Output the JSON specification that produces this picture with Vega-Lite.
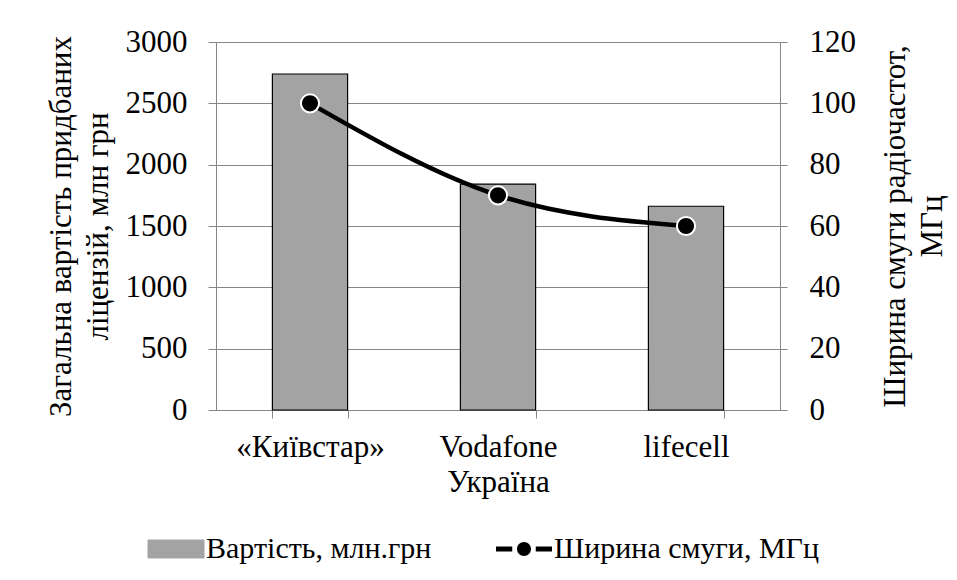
{
  "$schema": "https://vega.github.io/schema/vega-lite/v6.json",
  "width": 564,
  "height": 368,
  "autosize": {"type": "none"},
  "padding": {"left": 216, "top": 42, "right": 177, "bottom": 170},
  "background": "white",
  "config": {
    "font": "Liberation Serif",
    "view": {"stroke": null},
    "axis": {
      "labelFont": "Liberation Serif",
      "labelFontSize": 31,
      "labelColor": "black",
      "titleFont": "Liberation Serif",
      "titleFontSize": 31,
      "titleFontWeight": "normal",
      "titleColor": "black",
      "domainColor": "#868686",
      "tickColor": "#868686",
      "gridColor": "#868686"
    }
  },
  "data": {
    "values": [
      {"operator": "«Київстар»", "cost": 2739, "bandwidth": 100},
      {"operator": "Vodafone Україна", "cost": 1842, "bandwidth": 70},
      {"operator": "lifecell", "cost": 1661, "bandwidth": 60}
    ]
  },
  "encoding": {
    "x": {
      "field": "operator",
      "type": "nominal",
      "sort": null,
      "scale": {"paddingInner": 0.6, "paddingOuter": 0.3},
      "axis": {
        "title": null,
        "labelAngle": 0,
        "tickBand": "extent",
        "tickSize": 8,
        "labelPadding": 14,
        "labelLineHeight": 35,
        "labelExpr": "datum.label == 'Vodafone Україна' ? ['Vodafone', 'Україна'] : datum.label"
      }
    }
  },
  "layer": [
    {
      "mark": {"type": "bar", "stroke": "black", "strokeWidth": 1.2},
      "encoding": {
        "y": {
          "field": "cost",
          "type": "quantitative",
          "scale": {"domain": [0, 3000], "nice": false},
          "axis": {
            "title": ["Загальна вартість придбаних", "ліцензій, млн грн"],
            "values": [0, 500, 1000, 1500, 2000, 2500, 3000],
            "format": "d",
            "grid": true,
            "tickSize": 8,
            "labelPadding": 21,
            "titlePadding": 11,
            "titleLineHeight": 37
          }
        },
        "color": {
          "datum": "Вартість, млн.грн",
          "type": "nominal",
          "scale": {
            "domain": ["Вартість, млн.грн", "Ширина смуги, МГц"],
            "range": ["#a3a3a3", "black"]
          },
          "legend": {
            "orient": "none",
            "legendX": -55,
            "legendY": 492,
            "direction": "horizontal",
            "title": null,
            "labelFont": "Liberation Serif",
            "labelFontSize": 30,
            "labelColor": "black",
            "labelLimit": 400,
            "labelOffset": 15,
            "columnPadding": 64,
            "symbolSize": 3136,
            "symbolStrokeColor": "black",
            "symbolStrokeWidth": 1,
            "encode": {
              "symbols": {
                "update": {
                  "shape": {"signal": "datum.value == 'Вартість, млн.грн' ? 'M-1,-0.32L1,-0.32L1,0.32L-1,0.32Z' : 'M-1,-0.09L-0.42,-0.09L-0.42,0.09L-1,0.09Z M0.42,-0.09L1,-0.09L1,0.09L0.42,0.09Z M0.25,0A0.25,0.25 0 1,1 -0.25,0A0.25,0.25 0 1,1 0.25,0Z'"},
                  "fill": {"signal": "datum.value == 'Вартість, млн.грн' ? '#a3a3a3' : 'black'"},
                  "stroke": {"value": "black"},
                  "strokeWidth": {"signal": "datum.value == 'Вартість, млн.грн' ? 1 : 0"},
                  "opacity": {"value": 1}
                }
              }
            }
          }
        }
      }
    },
    {
      "layer": [
        {
          "mark": {"type": "line", "interpolate": "monotone", "strokeWidth": 4.5},
          "encoding": {
            "y": {
              "field": "bandwidth",
              "type": "quantitative",
              "scale": {"domain": [0, 120], "nice": false},
              "axis": {
                "orient": "right",
                "title": ["Ширина смуги радіочастот,", "МГц"],
                "values": [0, 20, 40, 60, 80, 100, 120],
                "grid": false,
                "tickSize": 7,
                "labelPadding": 22,
                "titleAngle": 270,
                "titleBaseline": "top",
                "titlePadding": -12,
                "titleLineHeight": 37
              }
            },
            "color": {"datum": "Ширина смуги, МГц", "type": "nominal"}
          }
        },
        {
          "mark": {"type": "point", "filled": true, "fill": "black", "stroke": "white", "strokeWidth": 2, "size": 330, "opacity": 1},
          "encoding": {
            "y": {"field": "bandwidth", "type": "quantitative"}
          }
        }
      ]
    }
  ],
  "resolve": {"scale": {"y": "independent"}}
}
